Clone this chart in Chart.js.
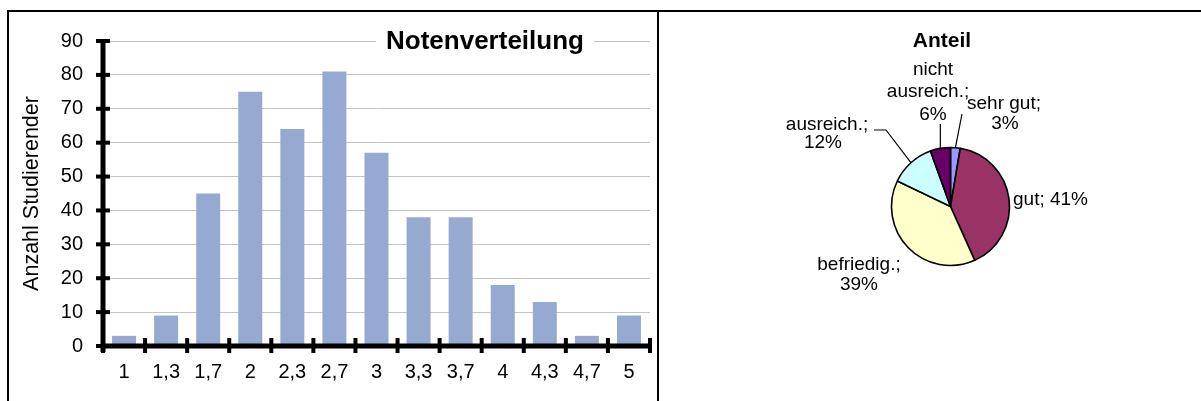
<!DOCTYPE html>
<html><head><meta charset="utf-8">
<script src="https://cdn.jsdelivr.net/npm/chart.js@4"></script>
<style>
html,body{margin:0;padding:0;background:#fff;}
#wrap{position:relative;width:1201px;height:401px;overflow:hidden;background:#fff;}
.ln{position:absolute;background:#000;}
canvas{position:absolute;}
</style></head><body>
<div id="wrap">
<canvas id="bar" width="658" height="401" style="left:0;top:0;width:658px;height:401px"></canvas>
<canvas id="pie" width="541" height="388" style="left:660px;top:13px;width:541px;height:388px"></canvas>
<div class="ln" style="left:7px;top:10px;width:1194px;height:2px"></div>
<div class="ln" style="left:7px;top:10px;width:2px;height:391px"></div>
<div class="ln" style="left:657px;top:10px;width:2px;height:391px"></div>
</div>
<script>
// ---- data ----
const grades = ['1','1,3','1,7','2','2,3','2,7','3','3,3','3,7','4','4,3','4,7','5'];
const counts = [3, 9, 45, 75, 64, 81, 57, 38, 38, 18, 13, 3, 9];
const yMin = 0, yMax = 90, yStep = 10;
const barTitle = 'Notenverteilung';
const yTitle = 'Anzahl Studierender';

const pieTitle = 'Anteil';
const pieNames = ['sehr gut', 'gut', 'befriedig.', 'ausreich.', 'nicht ausreich.'];
const pieCounts = [12, 184, 176, 56, 25];
const pieNameLines = [['sehr gut;'], ['gut;'], ['befriedig.;'], ['ausreich.;'], ['nicht', 'ausreich.;']];
const pieColors = ['#9999FF', '#993366', '#FFFFCC', '#CCFFFF', '#660066'];

// ---- styles ----
const FONT = 'Arial, "Liberation Sans", sans-serif';
const barColor = '#95A9D1';
const gridColor = '#c4c4c4';

// label placement (relative to pie centre), purely presentational
const pieLabelStyle = [
  {align:'center', sameLine:false, pos:[[53.5,-102.5],[54.5,-82.5]], leader:[[11.5,-92.5]]},
  {align:'left', sameLine:true, pos:[[62.5,-6.5]], leader:null},
  {align:'center', sameLine:false, pos:[[-91.5,58.5],[-91.5,78.5]], leader:null},
  {align:'center', sameLine:false, pos:[[-123.5,-81.5],[-127.5,-63.5]], leader:[[-64.5,-76.5],[-76.5,-76.5]]},
  {align:'center', sameLine:false, pos:[[-17.5,-136.5],[-22.5,-114.5],[-17.5,-91.5]], leader:[['arc',-82.5]]}
];

// ---- bar chart ----
const barDeco = {
  id:'barDeco',
  afterDatasetsDraw(chart){
    const ctx = chart.ctx, a = chart.chartArea;
    const xs = chart.scales.x, ys = chart.scales.y;
    ctx.save();
    ctx.strokeStyle = '#000';
    ctx.lineWidth = 5;
    ctx.beginPath();
    ctx.moveTo(a.left, ys.getPixelForValue(yMax) - 2);
    ctx.lineTo(a.left, a.bottom + 6);
    ctx.stroke();
    ctx.beginPath();
    ctx.moveTo(a.left - 2, a.bottom);
    ctx.lineTo(a.right + 2, a.bottom);
    ctx.stroke();
    ctx.lineWidth = 4;
    for (let v = yMin; v <= yMax; v += yStep) {
      const py = ys.getPixelForValue(v);
      ctx.beginPath(); ctx.moveTo(a.left - 7, py); ctx.lineTo(a.left + 7, py); ctx.stroke();
    }
    for (let i = 0; i <= grades.length; i++) {
      const px = xs.getPixelForValue(i - 0.5);
      ctx.beginPath(); ctx.moveTo(px, a.bottom - 8); ctx.lineTo(px, a.bottom + 7); ctx.stroke();
    }
    ctx.restore();
  },
  afterDraw(chart){
    const ctx = chart.ctx, ys = chart.scales.y;
    const gy = ys.getPixelForValue(yMax);
    ctx.save();
    ctx.font = 'bold 26px ' + FONT;
    const w = ctx.measureText(barTitle).width;
    const cx = 485;
    ctx.fillStyle = '#fff';
    ctx.fillRect(cx - w/2 - 10, gy - 12, w + 20, 24);
    ctx.fillStyle = '#000';
    ctx.textAlign = 'center';
    ctx.textBaseline = 'alphabetic';
    ctx.fillText(barTitle, cx, gy + 8);
    ctx.restore();
  }
};

new Chart(document.getElementById('bar'), {
  type:'bar',
  data:{labels:grades, datasets:[{data:counts, backgroundColor:barColor, borderWidth:0,
    categoryPercentage:1, barPercentage:0.57}]},
  options:{
    responsive:false, animation:false,
    layout:{padding:{top:41, right:8, bottom:15, left:0}},
    plugins:{legend:{display:false}, tooltip:{enabled:false}, title:{display:false}},
    scales:{
      x:{
        grid:{display:false, drawTicks:false},
        border:{display:false},
        ticks:{font:{family:FONT, size:20}, color:'#000', padding:14, autoSkip:false, maxRotation:0},
        afterFit(s){ s.height = 40; }
      },
      y:{
        min:yMin, max:yMax,
        grid:{color:gridColor, lineWidth:1, drawTicks:false},
        border:{display:false},
        ticks:{stepSize:yStep, font:{family:FONT, size:20}, color:'#000', padding:20},
        title:{display:true, text:yTitle, font:{family:FONT, size:21.5}, color:'#000', padding:{top:19, bottom:0}},
        afterFit(s){ s.width = 103; }
      }
    }
  },
  plugins:[barDeco]
});

// ---- pie chart ----
const total = pieCounts.reduce((s,v)=>s+v,0);
const pieDeco = {
  id:'pieDeco',
  afterDatasetsDraw(chart){
    const ctx = chart.ctx;
    const arcs = chart.getDatasetMeta(0).data;
    ctx.save();
    ctx.font = '19px ' + FONT;
    ctx.fillStyle = '#000';
    ctx.strokeStyle = '#000';
    ctx.lineWidth = 1.2;
    ctx.textBaseline = 'middle';
    arcs.forEach((arc, i) => {
      const p = arc.getProps(['x','y','startAngle','endAngle','outerRadius'], true);
      const mid = (p.startAngle + p.endAngle) / 2;
      const ax = p.x + Math.cos(mid) * p.outerRadius;
      const ay = p.y + Math.sin(mid) * p.outerRadius;
      const st = pieLabelStyle[i];
      if (st.leader) {
        ctx.beginPath();
        ctx.moveTo(ax, ay);
        st.leader.forEach(q => {
          const lx = q[0] === 'arc' ? ax : p.x + q[0];
          ctx.lineTo(lx, p.y + q[1]);
        });
        ctx.stroke();
      }
      const pct = Math.round(pieCounts[i] / total * 100) + '%';
      let lines = pieNameLines[i].slice();
      if (st.sameLine) lines[lines.length-1] += ' ' + pct; else lines.push(pct);
      ctx.textAlign = st.align;
      lines.forEach((t, j) => ctx.fillText(t, p.x + st.pos[j][0], p.y + st.pos[j][1]));
    });
    ctx.font = 'bold 21px ' + FONT;
    ctx.textAlign = 'center';
    ctx.textBaseline = 'alphabetic';
    ctx.fillText(pieTitle, 282, 34);
    ctx.restore();
  }
};

new Chart(document.getElementById('pie'), {
  type:'pie',
  data:{labels:pieNames, datasets:[{data:pieCounts, backgroundColor:pieColors,
    borderColor:'#000', borderWidth:1.6, radius:59}]},
  options:{
    responsive:false, animation:false,
    layout:{padding:{left:40, right:0, top:0, bottom:1}},
    plugins:{legend:{display:false}, tooltip:{enabled:false}, title:{display:false}}
  },
  plugins:[pieDeco]
});
</script>
</body></html>
